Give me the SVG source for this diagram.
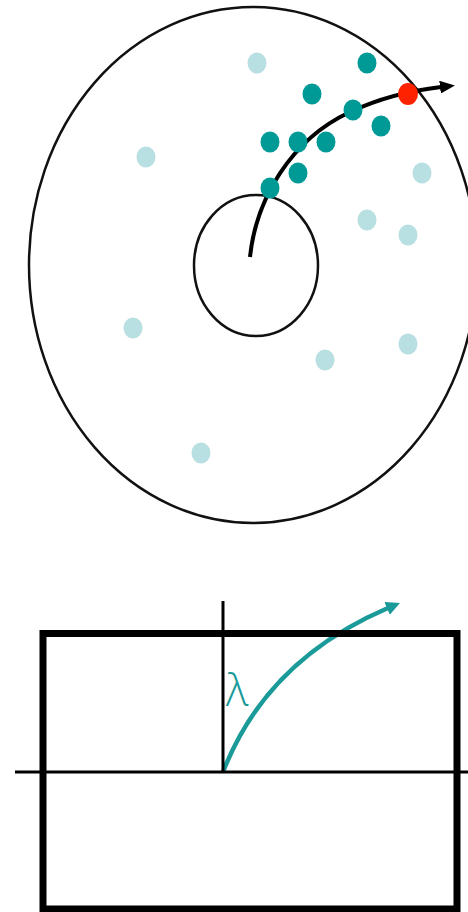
<svg xmlns="http://www.w3.org/2000/svg" width="468" height="912" viewBox="0 0 468 912">
<defs>
<style>
.ring{fill:none;stroke:#111;stroke-width:2.5}
.dk{fill:#009a96}
.lt{fill:#b8dfe1}
.frame{fill:none;stroke:#000;stroke-width:7}
.axis{stroke:#000;stroke-width:3;fill:none}
</style>
<marker id="ahBlack" markerUnits="userSpaceOnUse" viewBox="0 0 15 13" refX="1" refY="6.5" markerWidth="15" markerHeight="13" orient="auto">
<path d="M0,0 L15,6.5 L0,13 z" fill="#000"/>
</marker>
<marker id="ahTeal" markerUnits="userSpaceOnUse" viewBox="0 0 14 14" refX="1" refY="7" markerWidth="14" markerHeight="14" orient="auto">
<path d="M0,0 L14,7 L0,14 z" fill="#1a9a98"/>
</marker>
</defs>
<rect width="468" height="912" fill="#fff"/>
<g id="outer-region"><ellipse class="ring" cx="253" cy="265" rx="224" ry="258"/></g>
<g id="inner-region"><ellipse class="ring" cx="256" cy="265.5" rx="62" ry="70.5"/></g>
<g id="connectors">
<path d="M250,257 C256,200 290,140 350,112 C380,98 415,90 441,87" fill="none" stroke="#000" stroke-width="4" marker-end="url(#ahBlack)"/>
<path d="M223,772 C245,715 290,650 388,608" fill="none" stroke="#1a9a98" stroke-width="4.5" marker-end="url(#ahTeal)"/>
</g>
<g id="light-dots">
<ellipse class="lt" cx="257" cy="63" rx="9.5" ry="10.5"/>
<ellipse class="lt" cx="146" cy="157" rx="9.5" ry="10.5"/>
<ellipse class="lt" cx="422" cy="173" rx="9.5" ry="10.5"/>
<ellipse class="lt" cx="367" cy="220" rx="9.5" ry="10.5"/>
<ellipse class="lt" cx="408" cy="235" rx="9.5" ry="10.5"/>
<ellipse class="lt" cx="133" cy="328" rx="9.5" ry="10.5"/>
<ellipse class="lt" cx="408" cy="344" rx="9.5" ry="10.5"/>
<ellipse class="lt" cx="325" cy="360" rx="9.5" ry="10.5"/>
<ellipse class="lt" cx="201" cy="453" rx="9.5" ry="10.5"/>
</g>
<g id="dark-dots">
<ellipse class="dk" cx="367" cy="63" rx="9.5" ry="10.5"/>
<ellipse class="dk" cx="312" cy="94" rx="9.5" ry="10.5"/>
<ellipse class="dk" cx="353" cy="110" rx="9.5" ry="10.5"/>
<ellipse class="dk" cx="381" cy="126" rx="9.5" ry="10.5"/>
<ellipse class="dk" cx="270" cy="142" rx="9.5" ry="10.5"/>
<ellipse class="dk" cx="298" cy="142" rx="9.5" ry="10.5"/>
<ellipse class="dk" cx="326" cy="142" rx="9.5" ry="10.5"/>
<ellipse class="dk" cx="298" cy="173" rx="9.5" ry="10.5"/>
<ellipse class="dk" cx="270" cy="188" rx="9.5" ry="10.5"/>
</g>
<g id="red-dot"><ellipse cx="408" cy="94" rx="10" ry="11" fill="#ff2200"/></g>
<g id="frame"><rect class="frame" x="43" y="633.5" width="414" height="275.5"/></g>
<g id="axes">
<line class="axis" x1="15" y1="772" x2="468" y2="772"/>
<line class="axis" x1="223" y1="601" x2="223" y2="772"/>
</g>
<g id="lambda-label"><text x="237" y="706" font-family="Open Sans, sans-serif" font-weight="300" font-size="44" fill="#1a9a98" text-anchor="middle">λ</text></g>
</svg>
